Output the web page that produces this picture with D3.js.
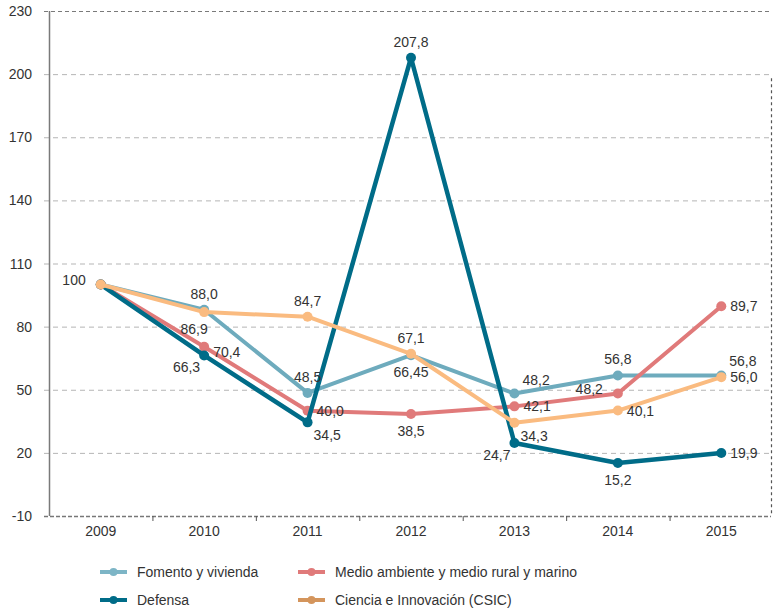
<!DOCTYPE html>
<html>
<head>
<meta charset="utf-8">
<script src="https://cdn.jsdelivr.net/npm/d3@7"></script>
<style>
  html, body { margin: 0; padding: 0; background: #fff; }
  svg { display: block; font-family: "Liberation Sans", Arial, Helvetica, sans-serif; }
</style>
</head>
<body>
<svg id="chart" width="774" height="610"></svg>
<script>
// Years on the category axis
const years = ["2009", "2010", "2011", "2012", "2013", "2014", "2015"];

// Index values per ministry (2009 = 100)
const fomento = [100, 88.0, 48.5, 66.45, 48.2, 56.8, 56.8];
const medioAmbiente = [100, 70.4, 40.0, 38.5, 42.1, 48.2, 89.7];
const defensa = [100, 66.3, 34.5, 207.8, 24.7, 15.2, 19.9];
const ciencia = [100, 86.9, 84.7, 67.1, 34.3, 40.1, 56.0];

// Value axis ticks
const yTicks = [-10, 20, 50, 80, 110, 140, 170, 200, 230];

const seriesNames = [
  "Fomento y vivienda",
  "Medio ambiente y medio rural y marino",
  "Defensa",
  "Ciencia e Innovación (CSIC)"
];

const series = [
  { name: seriesNames[0], values: fomento, color: "#6eabbd", legendColor: "#7db5c6", width: 4 },
  { name: seriesNames[1], values: medioAmbiente, color: "#e07a7a", legendColor: "#e07a7a", width: 4 },
  { name: seriesNames[2], values: defensa, color: "#006c88", legendColor: "#006c88", width: 4.5 },
  { name: seriesNames[3], values: ciencia, color: "#fabb80", legendColor: "#d4955c", width: 4 }
];

// Where each value label sits around its point (null = no label)
const labelSpots = [
  [null, "n", "n", "s", "ne", "n", "ne"],
  [null, "e2", "e", "s", "e", "w", "e"],
  ["w", "sw", "se", "n", "sw", "s", "e"],
  [null, "s2", "n", "n", "se", "e", "e"]
];

const spotOffsets = {
  n:  { dx: 0,   dy: -11, anchor: "middle" },
  s:  { dx: 0,   dy: 22,  anchor: "middle" },
  s2: { dx: -10, dy: 22,  anchor: "middle" },
  e:  { dx: 9,   dy: 5,   anchor: "start" },
  e2: { dx: 9,   dy: 10,  anchor: "start" },
  w:  { dx: -15, dy: 0,   anchor: "end" },
  ne: { dx: 8,   dy: -9,  anchor: "start" },
  se: { dx: 6,   dy: 18,  anchor: "start" },
  sw: { dx: -4,  dy: 17,  anchor: "end" }
};

function labelText(v) {
  if (v === 100) return "100";
  const s = Number.isInteger(v) ? v.toFixed(1) : String(v);
  return s.replace(".", ",");
}

const svg = d3.select("#chart");
const margin = { left: 49, right: 1, top: 11, bottom: 94 };
const W = 774, H = 610;

const x = d3.scaleBand()
  .domain(years)
  .range([margin.left, W - margin.right]);

const y = d3.scaleLinear()
  .domain([-10, 230])
  .range([H - margin.bottom, margin.top]);

const x0 = margin.left, x1 = W - margin.right - 2;
const y0 = y(-10), yTop = y(230);

// Horizontal grid lines
svg.append("g")
  .selectAll("line")
  .data(yTicks.filter(t => t !== -10))
  .join("line")
  .attr("x1", x0 - 5)
  .attr("x2", x1)
  .attr("y1", d => y(d) + 0.5)
  .attr("y2", d => y(d) + 0.5)
  .attr("stroke", d => d === 230 ? "#7a7a7a" : "#b5b5b5")
  .attr("stroke-width", 1)
  .attr("stroke-dasharray", d => d === 230 ? "4,3" : "5,4");

// Right dashed border
svg.append("line")
  .attr("x1", x1 + 0.5).attr("x2", x1 + 0.5)
  .attr("y1", y(198)).attr("y2", y0)
  .attr("stroke", "#555")
  .attr("stroke-width", 1.2)
  .attr("stroke-dasharray", "3,3");

// Bottom axis (dashed baseline with band ticks)
svg.append("line")
  .attr("x1", x0 - 5).attr("x2", x1)
  .attr("y1", y0 + 0.5).attr("y2", y0 + 0.5)
  .attr("stroke", "#777")
  .attr("stroke-width", 1.3)
  .attr("stroke-dasharray", "4,2");

svg.append("g")
  .selectAll("line")
  .data(years.slice(1))
  .join("line")
  .attr("x1", d => x(d) + 0.5)
  .attr("x2", d => x(d) + 0.5)
  .attr("y1", y0)
  .attr("y2", y0 + 5)
  .attr("stroke", "#555")
  .attr("stroke-width", 1);

svg.append("g")
  .selectAll("text")
  .data(years)
  .join("text")
  .attr("x", d => x(d) + x.bandwidth() / 2)
  .attr("y", y0 + 20)
  .attr("text-anchor", "middle")
  .attr("font-size", 14)
  .attr("fill", "#333")
  .text(d => d);

// Left axis
svg.append("line")
  .attr("x1", x0 + 0.5).attr("x2", x0 + 0.5)
  .attr("y1", yTop).attr("y2", y0)
  .attr("stroke", "#7a7a7a")
  .attr("stroke-width", 1.5);

svg.append("g")
  .selectAll("text")
  .data(yTicks)
  .join("text")
  .attr("x", x0 - 17)
  .attr("y", d => y(d) + 5)
  .attr("text-anchor", "end")
  .attr("font-size", 14)
  .attr("fill", "#333")
  .text(d => d);

// Series lines and points
const cx = (d, i) => x(years[i]) + x.bandwidth() / 2;
const line = d3.line()
  .x((d, i) => cx(d, i))
  .y(d => y(d));

const gSeries = svg.append("g");
series.forEach(s => {
  const g = gSeries.append("g");
  g.append("path")
    .attr("d", line(s.values))
    .attr("fill", "none")
    .attr("stroke", s.color)
    .attr("stroke-width", s.width)
    .attr("stroke-linejoin", "round");
  g.selectAll("circle")
    .data(s.values)
    .join("circle")
    .attr("cx", cx)
    .attr("cy", d => y(d))
    .attr("r", 5)
    .attr("fill", s.color);
});

// Value labels
const gLabels = svg.append("g");
series.forEach((s, si) => {
  s.values.forEach((v, i) => {
    const spot = labelSpots[si][i];
    if (!spot) return;
    const o = spotOffsets[spot];
    gLabels.append("text")
      .attr("x", cx(v, i) + o.dx)
      .attr("y", y(v) + o.dy)
      .attr("text-anchor", o.anchor)
      .attr("font-size", 14)
      .attr("fill", "#333")
      .text(labelText(v));
  });
});

// Legend
const legendPos = [
  { lx: 100, ly: 572 },
  { lx: 298, ly: 572 },
  { lx: 100, ly: 600 },
  { lx: 298, ly: 600 }
];
const legend = svg.append("g");
series.forEach((s, i) => {
  const p = legendPos[i];
  const g = legend.append("g").attr("transform", `translate(${p.lx},${p.ly})`);
  g.append("line")
    .attr("x1", 0).attr("x2", 27)
    .attr("y1", 0).attr("y2", 0)
    .attr("stroke", s.legendColor)
    .attr("stroke-width", 4);
  g.append("circle")
    .attr("cx", 13.5).attr("cy", 0).attr("r", 4)
    .attr("fill", s.legendColor);
  g.append("text")
    .attr("x", 37)
    .attr("y", 5)
    .attr("font-size", 14)
    .attr("fill", "#333")
    .text(s.name);
});
</script>
</body>
</html>
